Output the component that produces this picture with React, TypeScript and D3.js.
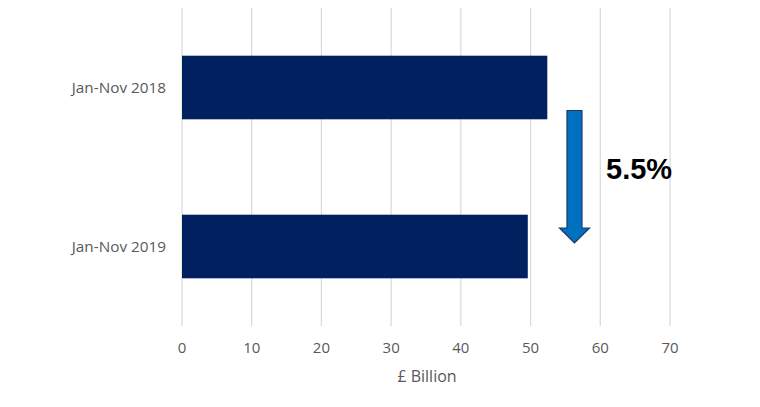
import React from "react";
import * as d3 from "d3";

const categories = ["Jan-Nov 2018", "Jan-Nov 2019"];
const values = [52.4, 49.6];
const xTicks = [0, 10, 20, 30, 40, 50, 60, 70];
const changeLabel = "5.5%";
const axisTitle = "£ Billion";

const W = 760;
const H = 407;
const left = 182;
const right = 670;
const top = 8;
const bottom = 326;

export default function App() {
  const x = d3.scaleLinear().domain([0, 70]).range([left, right]);
  const y = d3
    .scaleBand<string>()
    .domain(categories)
    .range([top, bottom])
    .paddingInner(0.6)
    .paddingOuter(0.3);

  // arrow geometry from bar ends
  const ax = x(56.3);
  const shaftW = 15;
  const headW = 30;
  const aTop = 110.5;
  const headTop = 228;
  const tip = 243;
  const arrowPath = [
    [ax - shaftW / 2, aTop],
    [ax + shaftW / 2, aTop],
    [ax + shaftW / 2, headTop],
    [ax + headW / 2, headTop],
    [ax, tip],
    [ax - headW / 2, headTop],
    [ax - shaftW / 2, headTop],
  ];

  const font = "'Open Sans', sans-serif";

  return (
    <svg width={W} height={H} style={{ position: "absolute", left: 0, top: 0, background: "#fff" }}>
      {xTicks.map((t) => (
        <line key={t} x1={x(t)} x2={x(t)} y1={top} y2={bottom} stroke="#d9d9d9" strokeWidth={1.2} />
      ))}
      {categories.map((c, i) => (
        <rect
          key={c}
          x={x(0)}
          y={y(c)!}
          width={x(values[i]) - x(0)}
          height={y.bandwidth()}
          fill="#002060"
        />
      ))}
      {categories.map((c) => (
        <text
          key={c}
          x={166}
          y={y(c)! + y.bandwidth() / 2}
          dy="0.35em"
          textAnchor="end"
          fontFamily={font}
          fontSize={15.3}
          fill="#595959"
        >
          {c}
        </text>
      ))}
      {xTicks.map((t) => (
        <text
          key={t}
          x={x(t)}
          y={352.5}
          textAnchor="middle"
          fontFamily={font}
          fontSize={15}
          fill="#595959"
        >
          {t}
        </text>
      ))}
      <text x={(left + right) / 2 + 1} y={382} textAnchor="middle" fontFamily={font} fontSize={16} fill="#595959">
        {axisTitle}
      </text>
      <path
        d={d3.line()(arrowPath as [number, number][])! + "Z"}
        fill="#0070C0"
        stroke="#1F3864"
        strokeWidth={1.2}
        strokeLinejoin="miter"
      />
      <text x={606} y={179} fontFamily="'Liberation Sans', Arial, sans-serif" fontWeight="bold" fontSize={29} fill="#000">
        {changeLabel}
      </text>
    </svg>
  );
}
